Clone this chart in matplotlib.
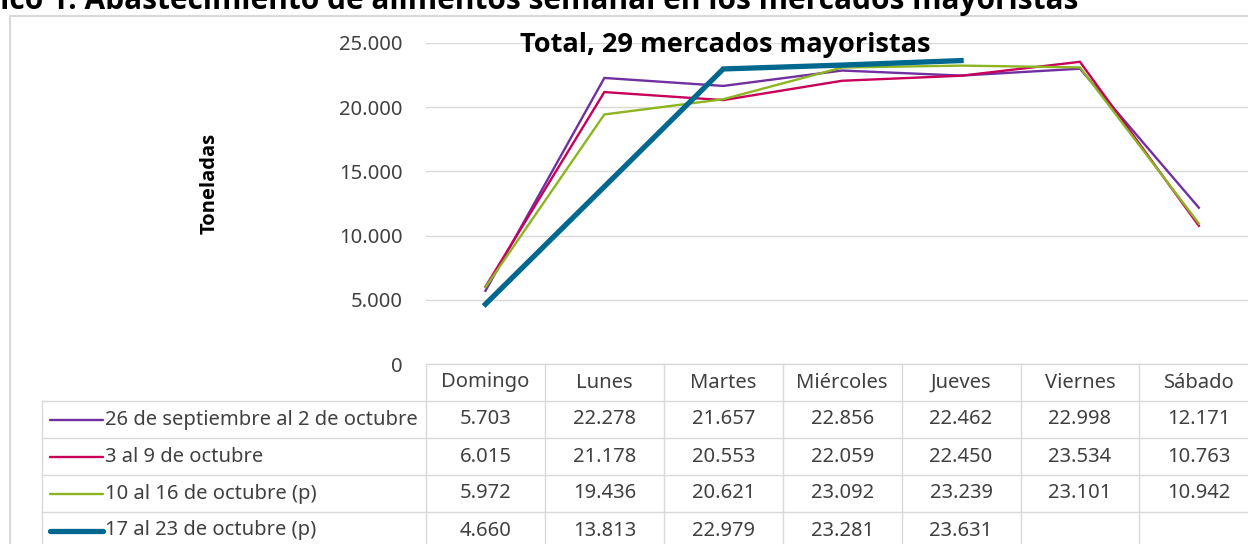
import matplotlib.pyplot as plt
from matplotlib.ticker import FuncFormatter

plt.rcParams['font.family'] = ['Noto Sans', 'DejaVu Sans']
negrita = ['Open Sans', 'DejaVu Sans']

# Datos
dias = ["Domingo", "Lunes", "Martes", "Miércoles", "Jueves", "Viernes", "Sábado"]
series = ["26 de septiembre al 2 de octubre", "3 al 9 de octubre",
          "10 al 16 de octubre (p)", "17 al 23 de octubre (p)"]
sem1 = [5703, 22278, 21657, 22856, 22462, 22998, 12171]
sem2 = [6015, 21178, 20553, 22059, 22450, 23534, 10763]
sem3 = [5972, 19436, 20621, 23092, 23239, 23101, 10942]
sem4 = [4660, 13813, 22979, 23281, 23631, None, None]
valores = [sem1, sem2, sem3, sem4]

colores = ["#7030A0", "#C8005A", "#8DB521", "#00688F"]
grosores = [1.7, 1.7, 1.7, 3.8]
gris = "#D9D9D9"
fs = 14.5


def fmt(v):
    return "" if v is None else f"{v:,}".replace(",", ".")


W, H = 1248, 544
fig = plt.figure(figsize=(W / 100, H / 100), dpi=100)

# capa en pixeles para marco y tabla
ov = fig.add_axes([0, 0, 1, 1], zorder=0)
ov.set_xlim(0, W)
ov.set_ylim(H, 0)
ov.axis('off')

# marco del gráfico
ov.plot([10, W], [16, 16], color=gris, lw=1.5)
ov.plot([10, 10], [16, H], color=gris, lw=1.5)

# geometría de la tabla
x0, cw = 426, 118.9
xl = 42
y_top, rh = 364, 37
n_rows = len(series)

ov.plot([x0, x0 + 7 * cw], [y_top, y_top], color=gris, lw=1)
for r in range(n_rows + 1):
    y = y_top + rh * (r + 1)
    ov.plot([xl, x0 + 7 * cw], [y, y], color=gris, lw=1)
ov.plot([xl, xl], [y_top + rh, H + 10], color=gris, lw=1)
for k in range(8):
    x = x0 + k * cw
    ov.plot([x, x], [y_top, H + 10], color=gris, lw=1)

for i, d in enumerate(dias):
    ov.text(x0 + (i + 0.5) * cw, y_top + rh / 2, d, ha='center', va='center',
            fontsize=fs, color="#404040")

for r, (nombre, vals) in enumerate(zip(series, valores)):
    yc = y_top + rh * (r + 1.5)
    ov.plot([50, 103], [yc, yc], color=colores[r], lw=grosores[r],
            solid_capstyle='round')
    ov.text(105, yc, nombre, ha='left', va='center', fontsize=fs, color="#404040")
    for i, v in enumerate(vals):
        ov.text(x0 + (i + 0.5) * cw, yc, fmt(v), ha='center', va='center',
                fontsize=fs, color="#404040")

# ejes del gráfico de líneas
ax = fig.add_axes([x0 / W, 1 - y_top / H, 7 * cw / W, (y_top - 43) / H], zorder=1)
ax.patch.set_alpha(0)
for r, vals in enumerate(valores):
    xs = [i for i, v in enumerate(vals) if v is not None]
    ys = [v for v in vals if v is not None]
    ax.plot(xs, ys, color=colores[r], lw=grosores[r], solid_joinstyle='miter')

ax.set_xlim(-0.5, 6.5)
ax.set_ylim(0, 25000)
ax.set_yticks(range(0, 25001, 5000))
ax.yaxis.set_major_formatter(FuncFormatter(lambda v, p: fmt(int(v))))
ax.tick_params(axis='y', length=0, pad=17, labelsize=fs, labelcolor="#404040")
ax.set_xticks([])
ax.grid(axis='y', color=gris, lw=1)
ax.set_axisbelow(True)
for s in ax.spines.values():
    s.set_visible(False)

fig.text(725 / W, 1 - 45 / H, "Total, 29 mercados mayoristas", ha='center',
         va='center', fontsize=19.5, fontweight='bold', family=negrita,
         color='black', zorder=5)

fig.text(210 / W, 1 - 183 / H, "Toneladas", rotation=90, ha='center', va='center',
         fontsize=14.5, fontweight='bold', family=negrita, color='black')

# título general (recortado en la imagen original)
titulo = "Gráfico 1. Abastecimiento de alimentos semanal en los mercados mayoristas"
r = fig.canvas.get_renderer()
t_pre = fig.text(0, 0, "Gráf", fontsize=21.5, fontweight='bold', family=negrita)
w_pre = t_pre.get_window_extent(renderer=r).width
t_pre.remove()
fig.text(-w_pre / W, 1 - 9 / H, titulo, ha='left', va='baseline',
         fontsize=21.5, fontweight='bold', family=negrita, color='black')

fig.savefig("out.png", dpi=100)
